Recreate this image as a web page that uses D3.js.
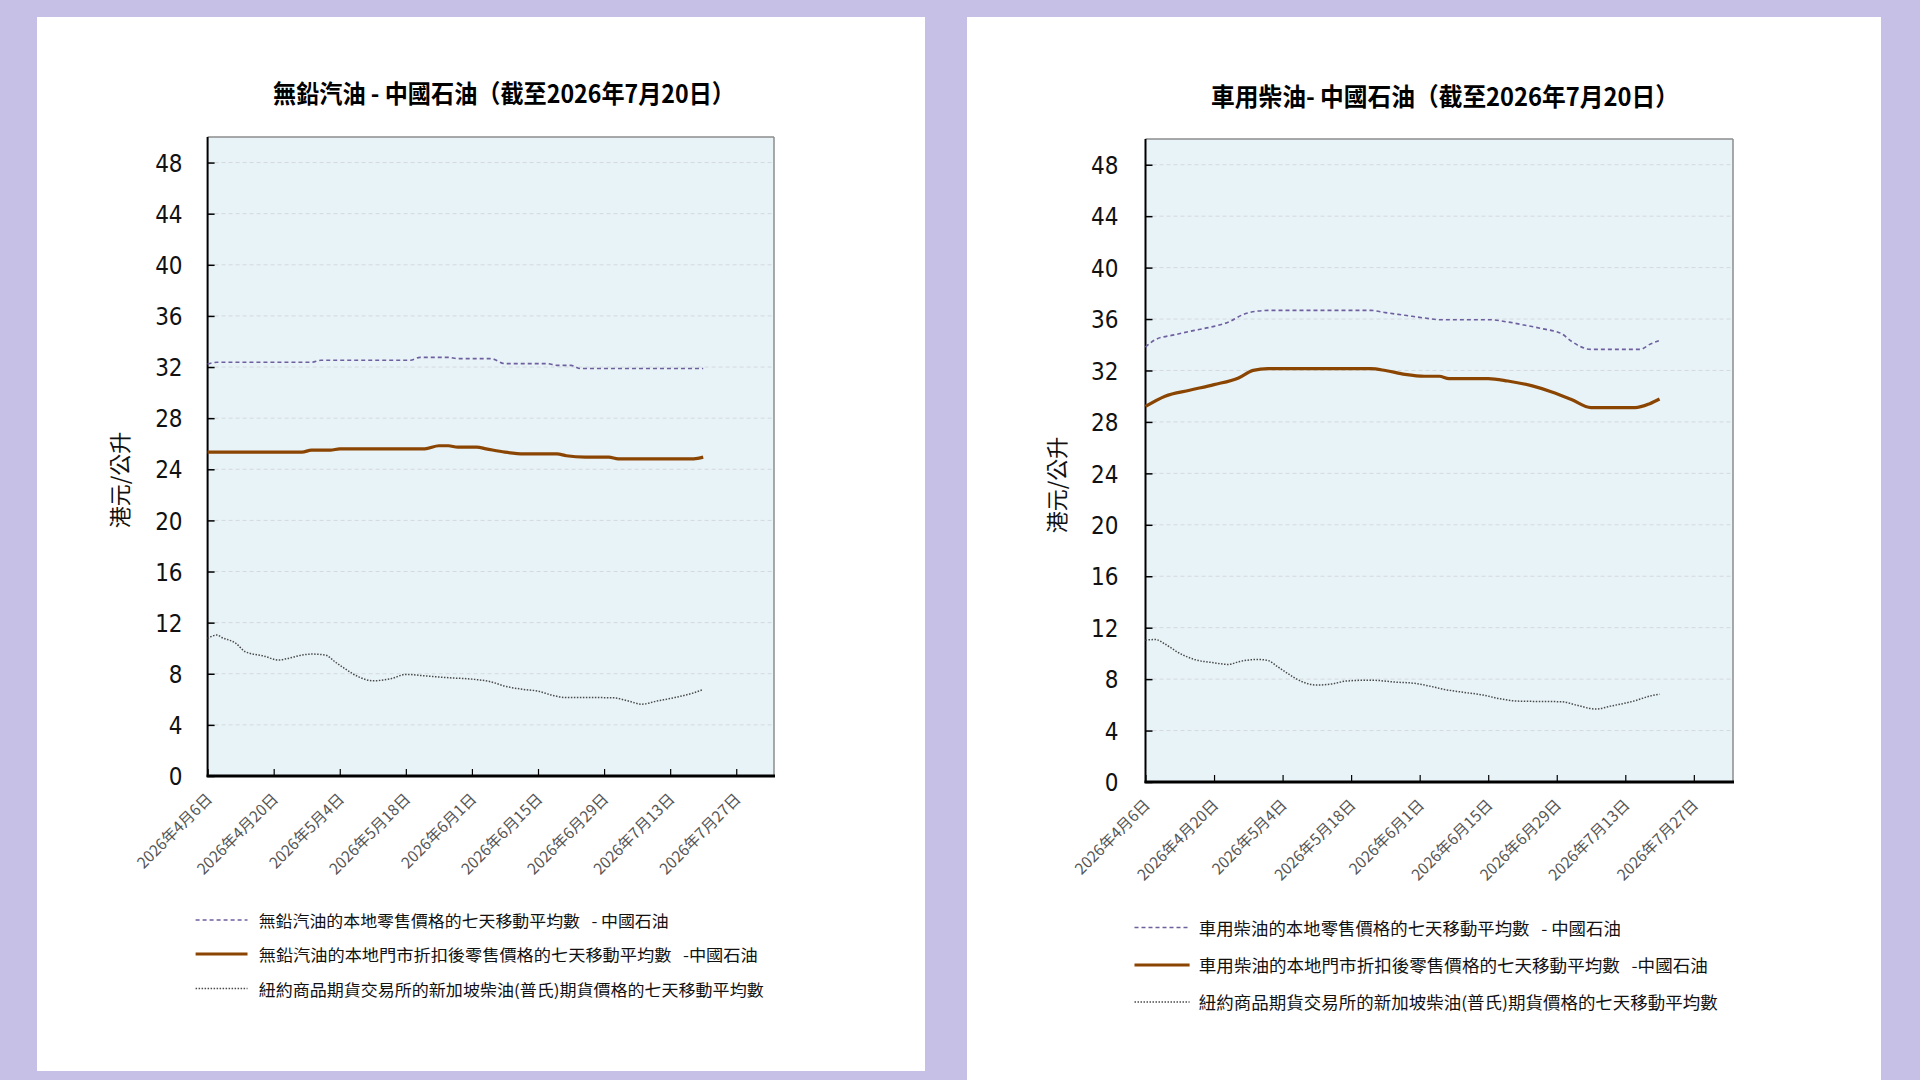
<!DOCTYPE html>
<html>
<head>
<meta charset="utf-8">
<script src="https://cdn.jsdelivr.net/npm/d3@7"></script>
<style>
html, body { margin: 0; padding: 0; background: #c7c0e6; }
svg { display: block; }
</style>
</head>
<body>
<svg id="chart" width="1920" height="1080"></svg>
<script>
// shared axes
var xTickDates = ["04-06", "04-20", "05-04", "05-18", "06-01", "06-15", "06-29", "07-13", "07-27"];
var xDomain = ["04-06", "08-04"];
var yTicks = [0, 4, 8, 12, 16, 20, 24, 28, 32, 36, 40, 44, 48];
var yMax = 50;

// left chart - unleaded petrol (Sinopec)
var petrolTitle = "無鉛汽油 - 中國石油（截至2026年7月20日）";
var petrolLegend = [
  "無鉛汽油的本地零售價格的七天移動平均數   - 中國石油",
  "無鉛汽油的本地門市折扣後零售價格的七天移動平均數   -中國石油",
  "紐約商品期貨交易所的新加坡柴油(普氏)期貨價格的七天移動平均數"
];
var petrolRetailDates = ["04-06", "04-08", "04-28", "04-30", "05-19", "05-21", "05-27", "05-29", "06-05", "06-08", "06-17", "06-19", "06-22", "06-24", "07-20"];
var petrolRetailValues = [32.24, 32.37, 32.37, 32.53, 32.53, 32.76, 32.76, 32.66, 32.66, 32.27, 32.27, 32.13, 32.13, 31.88, 31.88];
var petrolDiscountDates = ["04-06", "04-26", "04-28", "05-02", "05-04", "05-22", "05-25", "05-27", "05-29", "06-02", "06-04", "06-08", "06-12", "06-19", "06-21", "06-25", "06-30", "07-02", "07-18", "07-20"];
var petrolDiscountValues = [25.34, 25.34, 25.5, 25.5, 25.6, 25.6, 25.84, 25.84, 25.73, 25.73, 25.6, 25.34, 25.21, 25.21, 25.06, 24.95, 24.95, 24.82, 24.82, 24.95];
var plattsDatesA = ["04-06", "04-08", "04-09", "04-12", "04-14", "04-18", "04-21", "04-23", "04-26", "04-28", "05-01", "05-03", "05-05", "05-08", "05-11", "05-15", "05-18", "05-22", "05-27", "06-01", "06-05", "06-08", "06-12", "06-15", "06-18", "06-21", "06-25", "07-01", "07-04", "07-07", "07-10", "07-14", "07-18", "07-20"];
var plattsValuesA = [10.77, 11.03, 10.84, 10.38, 9.72, 9.38, 9.07, 9.2, 9.46, 9.54, 9.46, 8.93, 8.42, 7.76, 7.45, 7.63, 7.95, 7.84, 7.69, 7.58, 7.37, 7.03, 6.77, 6.64, 6.32, 6.14, 6.14, 6.12, 5.88, 5.62, 5.85, 6.14, 6.51, 6.77];

// right chart - motor diesel (Sinopec)
var dieselTitle = "車用柴油- 中國石油（截至2026年7月20日）";
var dieselLegend = [
  "車用柴油的本地零售價格的七天移動平均數   - 中國石油",
  "車用柴油的本地門市折扣後零售價格的七天移動平均數   -中國石油",
  "紐約商品期貨交易所的新加坡柴油(普氏)期貨價格的七天移動平均數"
];
var dieselRetailDates = ["04-06", "04-08", "04-12", "04-16", "04-20", "04-23", "04-26", "04-29", "05-01", "05-22", "05-25", "05-29", "06-02", "06-05", "06-15", "06-19", "06-22", "06-26", "06-30", "07-02", "07-06", "07-16", "07-18", "07-20"];
var dieselRetailValues = [33.82, 34.4, 34.78, 35.12, 35.43, 35.77, 36.36, 36.62, 36.67, 36.67, 36.5, 36.29, 36.08, 35.95, 35.95, 35.77, 35.56, 35.25, 34.86, 34.27, 33.64, 33.64, 34.03, 34.34];
var dieselDiscountDates = ["04-06", "04-10", "04-15", "04-20", "04-25", "04-28", "05-01", "05-22", "05-25", "05-29", "06-02", "06-05", "06-07", "06-15", "06-19", "06-24", "06-28", "07-02", "07-06", "07-15", "07-18", "07-20"];
var dieselDiscountValues = [29.2, 30.0, 30.46, 30.9, 31.42, 32.01, 32.14, 32.14, 32.0, 31.7, 31.55, 31.55, 31.37, 31.37, 31.18, 30.8, 30.33, 29.74, 29.11, 29.11, 29.42, 29.78];
var plattsDatesB = ["04-06", "04-08", "04-10", "04-13", "04-16", "04-20", "04-23", "04-25", "04-29", "05-01", "05-03", "05-05", "05-08", "05-11", "05-14", "05-17", "05-22", "05-27", "05-31", "06-03", "06-06", "06-10", "06-14", "06-17", "06-21", "06-30", "07-03", "07-07", "07-10", "07-15", "07-18", "07-20"];
var plattsValuesB = [11.03, 11.08, 10.72, 10.0, 9.53, 9.27, 9.14, 9.35, 9.53, 9.45, 8.96, 8.45, 7.8, 7.54, 7.62, 7.85, 7.92, 7.77, 7.67, 7.46, 7.2, 6.97, 6.76, 6.5, 6.29, 6.24, 5.98, 5.67, 5.9, 6.32, 6.68, 6.83];

var parse = d3.timeParse("%Y-%m-%d");
function toDate(s) { return parse("2026-" + s); }
var fmt = d3.timeFormat("%Y年%-m月%-d日");

var cjk = "'Noto Sans CJK TC', 'Noto Sans CJK SC', sans-serif";
var narrow = "'Liberation Sans Narrow', 'DejaVu Sans Condensed', 'Liberation Sans', sans-serif";

var styles = [
  { stroke: "#6e5f9e", width: 1.6, dash: "4,3" },
  { stroke: "#8b4503", width: 3.2, dash: null },
  { stroke: "#4a4a4a", width: 1.5, dash: "1.5,1.5" }
];

var svg = d3.select("#chart");

function drawChart(opt) {
  var g = svg.append("g");

  g.append("rect").attr("x", opt.panel[0]).attr("y", opt.panel[1])
    .attr("width", opt.panel[2]).attr("height", opt.panel[3]).attr("fill", "#fff");

  var x = d3.scaleTime().domain(xDomain.map(toDate)).range([opt.x0, opt.x1]);
  var y = d3.scaleLinear().domain([0, yMax]).range([opt.y1, opt.y0]);

  g.append("rect").attr("x", opt.x0).attr("y", opt.y0)
    .attr("width", opt.x1 - opt.x0).attr("height", opt.y1 - opt.y0).attr("fill", "#e8f3f8");

  // grid
  g.selectAll(".grid").data(yTicks.filter(function(d) { return d > 0; })).enter()
    .append("line").attr("class", "grid")
    .attr("x1", opt.x0).attr("x2", opt.x1)
    .attr("y1", function(d) { return y(d); }).attr("y2", function(d) { return y(d); })
    .attr("stroke", "#d3d9dd").attr("stroke-width", 1).attr("stroke-dasharray", "4,3");

  // frame
  g.append("line").attr("x1", opt.x0).attr("x2", opt.x1).attr("y1", opt.y0).attr("y2", opt.y0)
    .attr("stroke", "#8c8c8c").attr("stroke-width", 1.5);
  g.append("line").attr("x1", opt.x1).attr("x2", opt.x1).attr("y1", opt.y0).attr("y2", opt.y1)
    .attr("stroke", "#8c8c8c").attr("stroke-width", 1.5);

  // y axis
  var ya = g.append("g").attr("transform", "translate(" + opt.x0 + ",0)")
    .call(d3.axisLeft(y).tickValues(yTicks).tickSize(-7).tickPadding(opt.yPad));
  ya.select(".domain").remove();
  ya.selectAll(".tick line").attr("stroke", "#000").attr("stroke-width", 1.5);
  ya.selectAll(".tick text").attr("font-family", narrow).attr("font-size", 24)
    .attr("fill", "#111").attr("dy", "0.36em");

  // x axis
  var xa = g.append("g").attr("transform", "translate(0," + opt.y1 + ")")
    .call(d3.axisBottom(x).tickValues(xTickDates.map(toDate)).tickSize(-7).tickFormat(fmt));
  xa.select(".domain").remove();
  xa.selectAll(".tick line").attr("stroke", "#000").attr("stroke-width", 1.2);
  xa.selectAll(".tick text")
    .attr("x", 0).attr("y", 0).attr("dy", null)
    .attr("transform", "translate(5,24) rotate(-45)")
    .attr("text-anchor", "end")
    .attr("font-family", cjk).attr("font-size", 15.5).attr("fill", "#555");

  g.append("line").attr("x1", opt.x0).attr("x2", opt.x0).attr("y1", opt.y0).attr("y2", opt.y1 + 1)
    .attr("stroke", "#000").attr("stroke-width", 2);
  g.append("line").attr("x1", opt.x0 - 1).attr("x2", opt.x1 + 1).attr("y1", opt.y1).attr("y2", opt.y1)
    .attr("stroke", "#000").attr("stroke-width", 3);

  // series
  var line = d3.line()
    .x(function(d) { return x(d.date); })
    .y(function(d) { return y(d.value); })
    .curve(d3.curveMonotoneX);

  opt.series.forEach(function(s, i) {
    var pts = s.dates.map(function(d, k) { return { date: toDate(d), value: s.values[k] }; });
    g.append("path").datum(pts).attr("d", line)
      .attr("fill", "none").attr("stroke", styles[i].stroke)
      .attr("stroke-width", styles[i].width)
      .attr("stroke-dasharray", styles[i].dash);
  });

  // title
  g.append("text").attr("x", opt.titleX).attr("y", opt.titleY)
    .attr("text-anchor", "middle").attr("dominant-baseline", "central")
    .attr("font-family", cjk).attr("font-weight", "bold").attr("font-size", 25)
    .attr("textLength", opt.titleLen).attr("lengthAdjust", "spacingAndGlyphs")
    .text(opt.title);

  // y title
  g.append("text")
    .attr("transform", "translate(" + opt.yTitle[0] + "," + opt.yTitle[1] + ") rotate(-90)")
    .attr("text-anchor", "middle").attr("dominant-baseline", "central")
    .attr("font-family", cjk).attr("font-size", 22).attr("fill", "#111")
    .text("港元/公升");

  // legend
  var lg = g.append("g");
  opt.legend.forEach(function(t, i) {
    var ly = opt.legendY[i];
    lg.append("line").attr("x1", opt.legendX[0]).attr("x2", opt.legendX[1])
      .attr("y1", ly).attr("y2", ly)
      .attr("stroke", styles[i].stroke).attr("stroke-width", styles[i].width)
      .attr("stroke-dasharray", styles[i].dash);
    lg.append("text").attr("x", opt.legendX[2]).attr("y", ly)
      .attr("dominant-baseline", "central")
      .attr("font-family", cjk).attr("font-size", opt.legendSize).attr("fill", "#111")
      .attr("textLength", opt.legendLen[i]).attr("lengthAdjust", "spacingAndGlyphs")
      .style("white-space", "pre")
      .text(t);
  });
}

drawChart({
  panel: [37, 17, 888, 1054],
  x0: 207.6, x1: 774, y0: 137, y1: 776,
  yPad: 25,
  title: petrolTitle, titleX: 504, titleY: 91.5, titleLen: 462,
  yTitle: [118, 480],
  legend: petrolLegend,
  legendX: [195.6, 247.5, 258.7], legendY: [920, 954, 988.5],
  legendSize: 16, legendLen: [410, 499, 505],
  series: [
    { dates: petrolRetailDates, values: petrolRetailValues },
    { dates: petrolDiscountDates, values: petrolDiscountValues },
    { dates: plattsDatesA, values: plattsValuesA }
  ]
});

drawChart({
  panel: [967, 17, 914, 1063],
  x0: 1145.5, x1: 1733, y0: 139, y1: 782,
  yPad: 27,
  title: dieselTitle, titleX: 1445, titleY: 94.5, titleLen: 468,
  yTitle: [1055, 485],
  legend: dieselLegend,
  legendX: [1134.5, 1189.6, 1198.8], legendY: [927.5, 965, 1002],
  legendSize: 16.5, legendLen: [422, 509, 519],
  series: [
    { dates: dieselRetailDates, values: dieselRetailValues },
    { dates: dieselDiscountDates, values: dieselDiscountValues },
    { dates: plattsDatesB, values: plattsValuesB }
  ]
});
</script>
</body>
</html>
